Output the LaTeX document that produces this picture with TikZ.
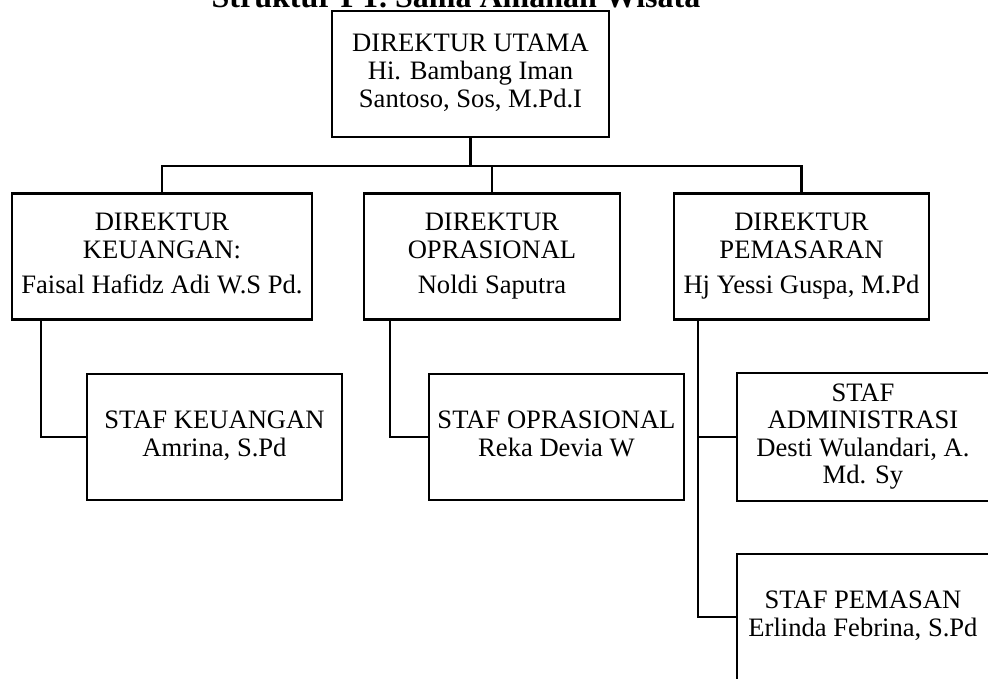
\documentclass[tikz,border=0pt]{standalone}
\usepackage{fontspec}
\setmainfont{Liberation Serif}
\begin{document}
\begin{tikzpicture}[x=1pt,y=-1pt,
  box/.style={draw,line width=2.2pt,rectangle,inner sep=0pt,align=center,
    font=\fontsize{26.6}{27.6}\selectfont},
  conn/.style={line width=2.2pt}]
\useasboundingbox (0,0) rectangle (988,678);
\node[anchor=base,font=\bfseries\fontsize{32}{34}\selectfont] (title) at (456,7) {Struktur PT. Sama Amanah Wisata};
\node[box,minimum width=277pt,minimum height=126pt] (top) at (470.5,74) {\strut DIREKTUR UTAMA\\Hi. Bambang Iman\\Santoso, Sos, M.Pd.I\strut};
\node[box,minimum width=300pt,minimum height=126pt] (keu) at (162,256.5) {\strut DIREKTUR\\KEUANGAN:\\[8pt]Faisal Hafidz Adi W.S Pd.\strut};
\node[box,minimum width=256pt,minimum height=126pt] (ops) at (492,256.5) {\strut DIREKTUR\\OPRASIONAL\\[8pt]Noldi Saputra\strut};
\node[box,minimum width=255pt,minimum height=126pt] (pem) at (801.5,256.5) {\strut DIREKTUR\\PEMASARAN\\[8pt]Hj Yessi Guspa, M.Pd\strut};
\node[box,minimum width=255pt,minimum height=126pt] (sk) at (214.5,437) {\strut STAF KEUANGAN\\Amrina, S.Pd\strut};
\node[box,minimum width=255pt,minimum height=126pt] (so) at (556.5,437) {\strut STAF OPRASIONAL\\Reka Devia W\strut};
\node[box,minimum width=252pt,minimum height=128pt] (sa) at (863,437) {\strut STAF\\ADMINISTRASI\\Desti Wulandari, A.\\Md. Sy\strut};
\node[box,minimum width=252pt,minimum height=126pt] (sp) at (863,617) {\strut STAF PEMASAN\\Erlinda Febrina, S.Pd\strut};
% connectors
\draw[conn] (top.south) -- ++(0,28) coordinate (bus);
\draw[conn] (keu.north) -- (keu.north |- bus) -- (pem.north |- bus) -- (pem.north);
\draw[conn] (ops.north) -- (ops.north |- bus);
\coordinate (keuT) at ([xshift=30pt]keu.south west);
\coordinate (opsT) at ([xshift=27pt]ops.south west);
\coordinate (pemT) at ([xshift=25pt]pem.south west);
\draw[conn] (keuT) |- (sk.west);
\draw[conn] (opsT) |- (so.west);
\draw[conn] (pemT) |- (sp.west);
\draw[conn] (sa.west) -- (sa.west -| pemT);
\end{tikzpicture}
\end{document}
